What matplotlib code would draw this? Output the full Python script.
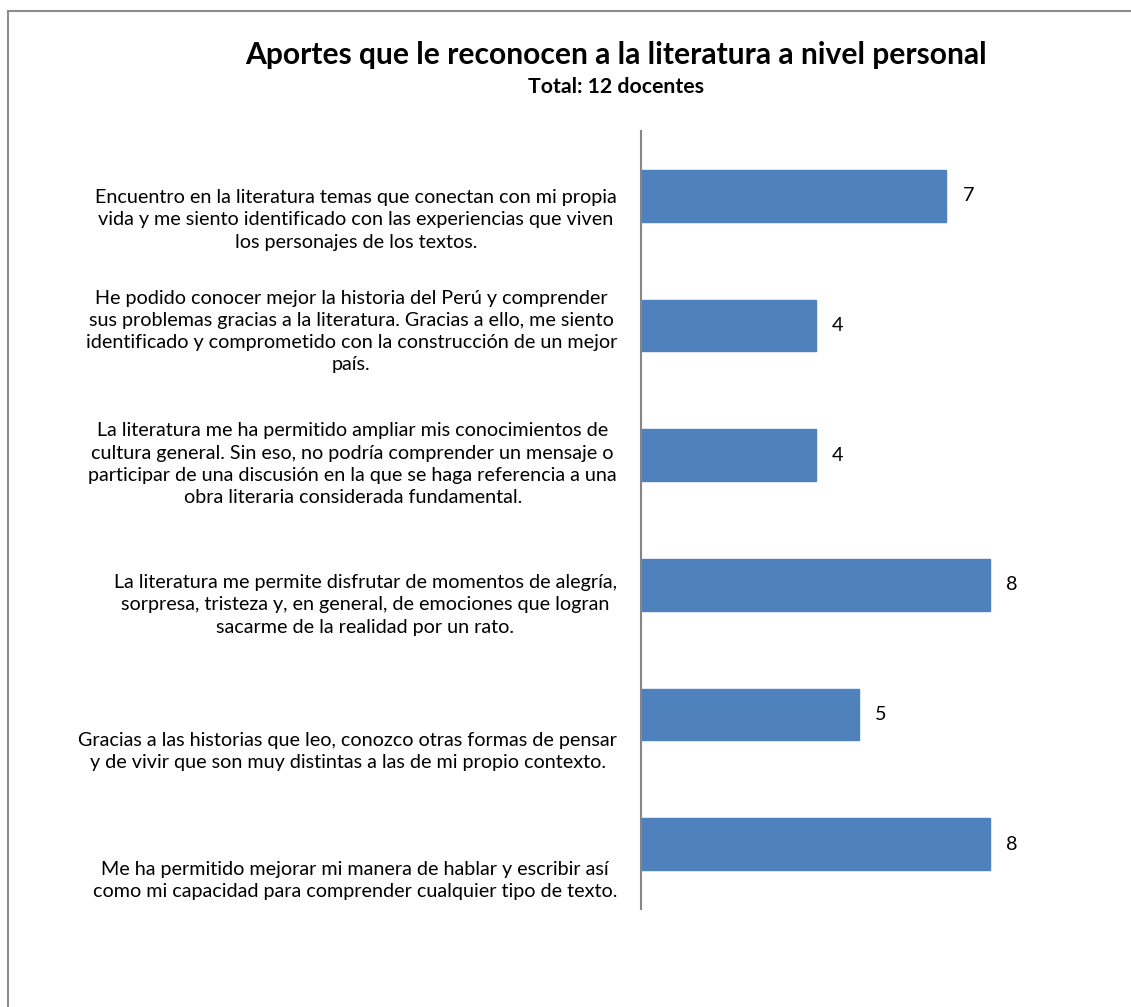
import matplotlib
matplotlib.use("Agg")
import matplotlib.pyplot as plt
from matplotlib.lines import Line2D

plt.rcParams['font.family'] = ['Lato', 'DejaVu Sans']

title = "Aportes que le reconocen a la literatura a nivel personal"
subtitle = "Total: 12 docentes"

categories = [
    "Encuentro en la literatura temas que conectan con mi propia\nvida y me siento identificado con las experiencias que viven\nlos personajes de los textos.",
    "He podido conocer mejor la historia del Perú y comprender\nsus problemas gracias a la literatura. Gracias a ello, me siento\nidentificado y comprometido con la construcción de un mejor\npaís.",
    "La literatura me ha permitido ampliar mis conocimientos de\ncultura general. Sin eso, no podría comprender un mensaje o\nparticipar de una discusión en la que se haga referencia a una\nobra literaria considerada fundamental.",
    "La literatura me permite disfrutar de momentos de alegría,\nsorpresa, tristeza y, en general, de emociones que logran\nsacarme de la realidad por un rato.",
    "Gracias a las historias que leo, conozco otras formas de pensar\ny de vivir que son muy distintas a las de mi propio contexto.",
    "Me ha permitido mejorar mi manera de hablar y escribir así\ncomo mi capacidad para comprender cualquier tipo de texto.",
]
values = [7, 4, 4, 8, 5, 8]
# vertical offset (pixels, downward) of each category label relative to its bar
label_offsets = [24, 6, 9, 20, 37, 36]

W, H = 1131, 1007
fig = plt.figure(figsize=(W / 100, H / 100), dpi=100)
fig.patch.set_facecolor('white')

ax = fig.add_axes([641 / W, 98 / H, 480 / W, 778 / H])
pos = list(range(len(values)))
ax.barh(pos, values, height=0.4, color='#4F81BD', edgecolor='#4F81BD')
ax.set_xlim(0, 11)
ax.set_ylim(len(values) - 0.5, -0.5)
for s in ['top', 'right', 'bottom']:
    ax.spines[s].set_visible(False)
ax.spines['left'].set_color('#868686')
ax.spines['left'].set_linewidth(1.5)
ax.set_xticks([])
ax.set_yticks([])

for p, v in zip(pos, values):
    ax.annotate(str(v), xy=(v, p), xytext=(16, 0), textcoords='offset pixels',
                ha='left', va='center', fontsize=14.25, color='black')

for p, lab, off in zip(pos, categories, label_offsets):
    ax.annotate(lab, xy=(0, p), xytext=(-24, -off), textcoords='offset pixels',
                ha='right', va='center', multialignment='center',
                fontsize=14.25, linespacing=1.37, color='black', annotation_clip=False)

fig.text(616 / W, 1 - 55 / H, title, ha='center', va='center', fontsize=21.6,
         fontweight='bold')
fig.text(616 / W, 1 - 87 / H, subtitle, ha='center', va='center', fontsize=15.3,
         fontweight='bold')

# chart border (top and left visible)
fig.add_artist(Line2D([8 / W, 1], [1 - 11 / H, 1 - 11 / H], color='#8c8c8c', lw=1.5,
                      transform=fig.transFigure))
fig.add_artist(Line2D([8 / W, 8 / W], [1 - 11 / H, 0], color='#8c8c8c', lw=1.5,
                      transform=fig.transFigure))

fig.savefig('out.png', dpi=100, facecolor='white')
